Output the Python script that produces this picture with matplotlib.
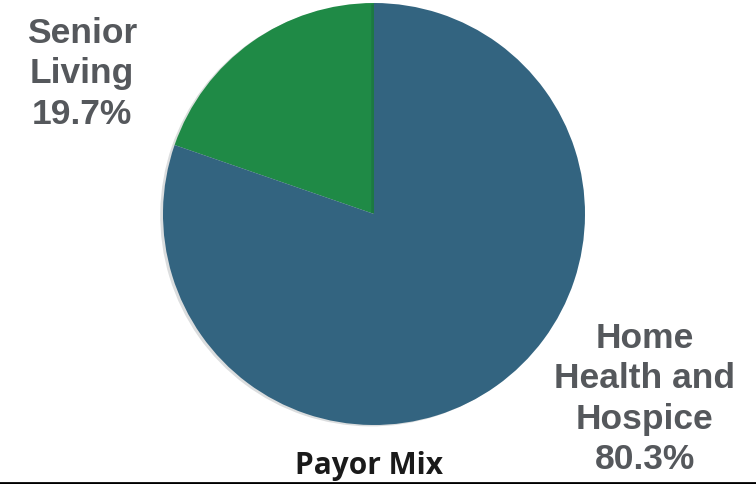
import matplotlib.pyplot as plt
import matplotlib.patheffects as pe

segmentos = ["Senior\nLiving", "Home\nHealth and\nHospice"]
porcentajes = [19.7, 80.3]
colores = ["#1f8a46", "#336480"]

fig = plt.figure(figsize=(7.56, 4.85), dpi=100)
ax = fig.add_axes([0, 0, 1, 1])

# coordenadas en pixeles, origen abajo a la izquierda
cunas, _ = ax.pie(porcentajes, colors=colores, startangle=90, counterclock=True,
                  center=(374, 270), radius=211,
                  wedgeprops=dict(linewidth=0), frame=True)
for c in cunas:
    c.set_path_effects([pe.SimplePatchShadow(offset=(-2, -1), alpha=0.15), pe.Normal()])
ax.set_xlim(0, 756)
ax.set_ylim(0, 485)
ax.set_aspect("auto")
ax.axis("off")

gris = "#55585c"
ax.text(82, 411, f"{segmentos[0]}\n{porcentajes[0]}%", ha="center", va="center",
        fontsize=25.5, fontweight="bold", color=gris, family="Liberation Sans", linespacing=1.28)
ax.text(645, 86, f"{segmentos[1]}\n{porcentajes[1]}%", ha="center", va="center",
        fontsize=25.5, fontweight="bold", color=gris, family="Liberation Sans", linespacing=1.28)

ax.text(369, 19, "Payor Mix", ha="center", va="center", fontsize=21.5,
        fontweight="bold", color="#1a1a1a", family="Open Sans")
ax.plot([0, 756], [1.5, 1.5], color="black", linewidth=2, clip_on=False)

fig.savefig("out.png", dpi=100)
